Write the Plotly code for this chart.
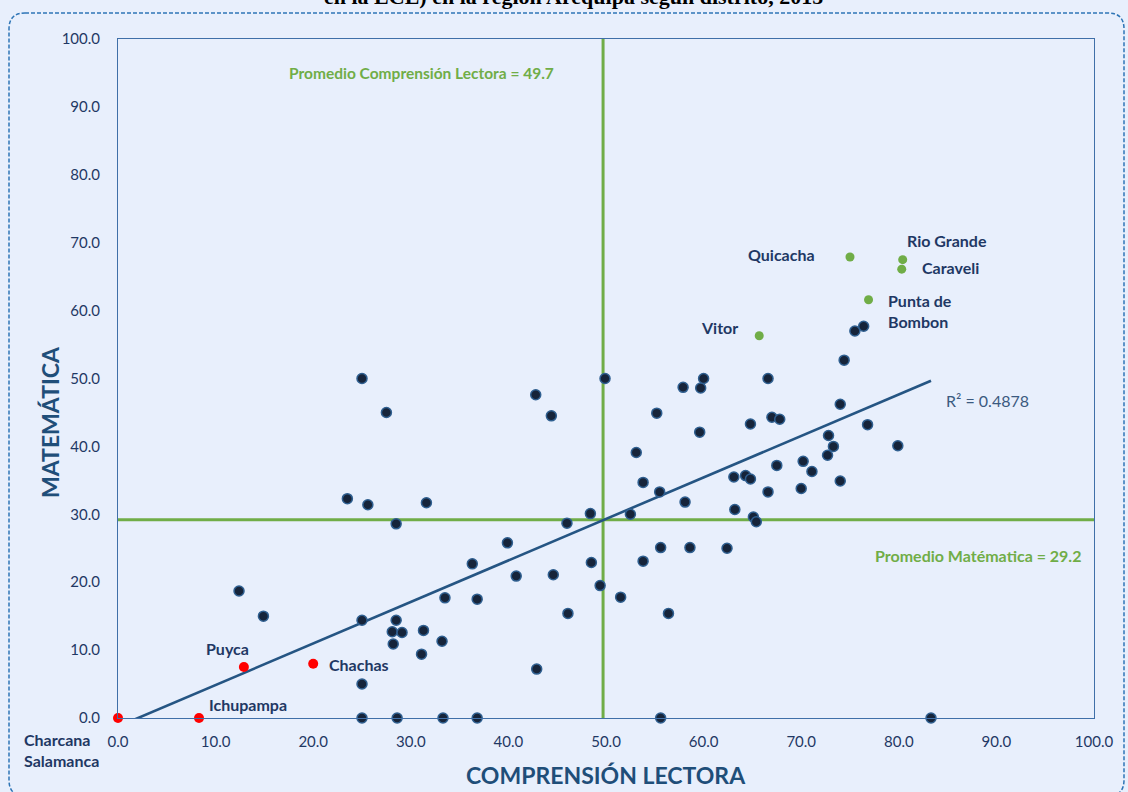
import plotly.graph_objects as go

# ---------------- data ----------------
x_dark = [25.0, 27.5, 42.8, 44.4, 49.9, 57.9, 59.7, 60.0, 66.6, 55.2,
          59.6, 64.8, 67.0, 67.8, 53.1, 67.5, 53.8, 63.1, 64.3, 64.8,
          66.6, 55.5, 58.1, 63.2, 52.5, 65.1, 65.4, 48.4, 76.4, 75.5,
          74.4, 74.0, 76.8, 79.9, 72.8, 73.3, 72.7, 70.2, 71.1, 74.0,
          70.0, 23.5, 25.6, 31.6, 28.5, 46.0, 39.9, 36.3, 48.5, 40.8,
          44.6, 49.4, 53.8, 55.6, 58.6, 62.4, 51.5, 33.5, 36.8, 46.1,
          56.4, 12.4, 14.9, 25.0, 28.5, 28.1, 29.1, 31.3, 28.2, 33.2,
          31.1, 25.0, 42.9, 25.0, 28.6, 33.3, 36.8, 55.6, 83.3]
y_dark = [50.0, 45.0, 47.6, 44.5, 50.0, 48.7, 48.6, 50.0, 50.0, 44.9,
          42.1, 43.3, 44.3, 44.0, 39.1, 37.2, 34.7, 35.5, 35.7, 35.2,
          33.3, 33.3, 31.8, 30.7, 30.0, 29.6, 28.9, 30.1, 57.7, 57.0,
          52.7, 46.2, 43.2, 40.1, 41.6, 40.0, 38.7, 37.8, 36.3, 34.9,
          33.8, 32.3, 31.4, 31.7, 28.6, 28.7, 25.8, 22.7, 22.9, 20.9,
          21.1, 19.5, 23.1, 25.1, 25.1, 25.0, 17.8, 17.7, 17.5, 15.4,
          15.4, 18.7, 15.0, 14.4, 14.4, 12.7, 12.6, 12.9, 10.9, 11.3,
          9.4, 5.0, 7.2, 0.0, 0.0, 0.0, 0.0, 0.0, 0.0]

green_names = ["Quicacha", "Rio Grande", "Caraveli", "Punta de<br>Bombon", "Vitor"]
x_green = [75.0, 80.4, 80.3, 76.9, 65.7]
y_green = [67.9, 67.5, 66.1, 61.6, 56.3]

red_names = ["Charcana<br>Salamanca", "Ichupampa", "Puyca", "Chachas"]
x_red = [0.0, 8.3, 12.9, 20.0]
y_red = [0.0, 0.0, 7.5, 8.0]

mean_lectora = 49.7
mean_matematica = 29.2
trend_slope = 0.6114
trend_intercept = -1.253
r2_text = "R² = 0.4878"

x_ticks = [0, 10, 20, 30, 40, 50, 60, 70, 80, 90, 100]
y_ticks = [0, 10, 20, 30, 40, 50, 60, 70, 80, 90, 100]

title_text = "en la ECE) en la región Arequipa según distrito, 2015"
x_title = "COMPRENSIÓN LECTORA"
y_title = "MATEMÁTICA"

# ---------------- styling ----------------
BG = "#E8EFFC"
NAVY = "#1F3864"
AXT = "#1F4E79"
GREEN = "#70AD47"
FONT = "Lato, 'Open Sans', sans-serif"

W, H = 1128, 792
L, T, R, B = 118, 39, 34, 74
PW, PH = W - L - R, H - T - B

def xp(px):
    return (px - L) / PW

def yp(py):
    return (H - B - py) / PH

fig = go.Figure()

# trend line
tx = [0.0, max(x_dark + x_green + x_red)]
ty = [trend_slope * v + trend_intercept for v in tx]
fig.add_trace(go.Scatter(x=tx, y=ty, mode="lines",
                         line=dict(color="#255583", width=2.6),
                         hoverinfo="skip", showlegend=False))

fig.add_trace(go.Scatter(x=x_dark, y=y_dark, mode="markers",
                         marker=dict(size=10, color="#16243A",
                                     line=dict(color="#2F5F90", width=1.5)),
                         cliponaxis=False, showlegend=False))
fig.add_trace(go.Scatter(x=x_green, y=y_green, mode="markers",
                         marker=dict(size=9, color=GREEN),
                         cliponaxis=False, showlegend=False))
fig.add_trace(go.Scatter(x=x_red, y=y_red, mode="markers",
                         marker=dict(size=10, color="#FF0000"),
                         cliponaxis=False, showlegend=False))

# mean lines
fig.add_shape(type="line", x0=mean_lectora, x1=mean_lectora, y0=0, y1=100,
              xref="x", yref="y", line=dict(color=GREEN, width=3), layer="below")
fig.add_shape(type="line", x0=0, x1=100, y0=mean_matematica, y1=mean_matematica,
              xref="x", yref="y", line=dict(color=GREEN, width=3), layer="below")

# outer dashed rounded border
x0, y0, x1, y1, r = 9, 13, 1124, 796, 16
def P(px, py):
    return f"{xp(px):.5f},{yp(py):.5f}"
path = (f"M {P(x0 + r, y0)} L {P(x1 - r, y0)} Q {P(x1, y0)} {P(x1, y0 + r)} "
        f"L {P(x1, y1 - r)} Q {P(x1, y1)} {P(x1 - r, y1)} "
        f"L {P(x0 + r, y1)} Q {P(x0, y1)} {P(x0, y1 - r)} "
        f"L {P(x0, y0 + r)} Q {P(x0, y0)} {P(x0 + r, y0)} Z")
fig.add_shape(type="path", path=path, xref="paper", yref="paper",
              line=dict(color="#2E75B6", width=1.5, dash="4px,2px"))

ann = []
# point labels (offsets in px)
lab_style = dict(font=dict(family=FONT, size=16, color=NAVY), showarrow=False)
offsets_green = [("right", -33, 2), ("left", 2, 19), ("left", 18, 2), ("left", 17, -11), ("right", -19, 8)]
for n, x, y, (anc, dx, dy) in zip(green_names, x_green, y_green, offsets_green):
    ann.append(dict(x=x, y=y, text=f"<b>{n}</b>", xanchor=anc, yanchor="middle",
                    xshift=dx, yshift=dy, align="left", **lab_style))
offsets_red = [("left", -96, -32), ("center", 49, 14), ("center", -16, 19), ("left", 14, -1)]
for n, x, y, (anc, dx, dy) in zip(red_names, x_red, y_red, offsets_red):
    ann.append(dict(x=x, y=y, text=f"<b>{n}</b>", xanchor=anc, yanchor="middle",
                    xshift=dx, yshift=dy, align="left", **lab_style))

ann.append(dict(x=xp(421), y=yp(73), xref="paper", yref="paper",
                text=f"<b>Promedio Comprensión Lectora = {mean_lectora}</b>",
                font=dict(family=FONT, size=15.5, color=GREEN), showarrow=False,
                xanchor="center", yanchor="middle"))
ann.append(dict(x=xp(1083), y=yp(555), xref="paper", yref="paper",
                text=f"<b>Promedio Matématica = {mean_matematica}</b>",
                font=dict(family=FONT, size=16, color=GREEN), showarrow=False,
                xanchor="right", yanchor="middle"))
ann.append(dict(x=xp(944), y=yp(400), xref="paper", yref="paper",
                text=r2_text, font=dict(family=FONT, size=16, color="#3B5A80"),
                showarrow=False, xanchor="left", yanchor="middle"))
ann.append(dict(x=xp(606), y=yp(775), xref="paper", yref="paper",
                text=f"<b>{x_title}</b>", font=dict(family=FONT, size=23, color=AXT),
                showarrow=False, xanchor="center", yanchor="middle"))
ann.append(dict(x=xp(50), y=yp(422), xref="paper", yref="paper",
                text=f"<b>{y_title}</b>", font=dict(family=FONT, size=23, color=AXT),
                showarrow=False, xanchor="center", yanchor="middle", textangle=-90))
ann.append(dict(x=xp(573), y=yp(-4), xref="paper", yref="paper",
                text=f"<b>{title_text}</b>",
                font=dict(family="'Liberation Serif', 'Times New Roman', serif", size=22, color="#000000"),
                showarrow=False, xanchor="center", yanchor="middle"))

axis_common = dict(range=[0, 100], showgrid=False, zeroline=False, showline=True,
                   mirror=True, linecolor="#3F6FA8", linewidth=1, ticks="",
                   tickformat=".1f", fixedrange=True,
                   tickfont=dict(family=FONT, size=15, color=NAVY))

fig.update_layout(
    width=W, height=H,
    margin=dict(l=L, r=R, t=T, b=B, pad=0),
    paper_bgcolor=BG, plot_bgcolor=BG,
    xaxis=dict(tickvals=x_ticks, ticklabelstandoff=10, **axis_common),
    yaxis=dict(tickvals=y_ticks, ticklabelstandoff=14, **axis_common),
    annotations=ann,
    showlegend=False,
)

fig.write_html("out.html", config={"displayModeBar": False},
               post_script="document.body.style.margin='0';")
